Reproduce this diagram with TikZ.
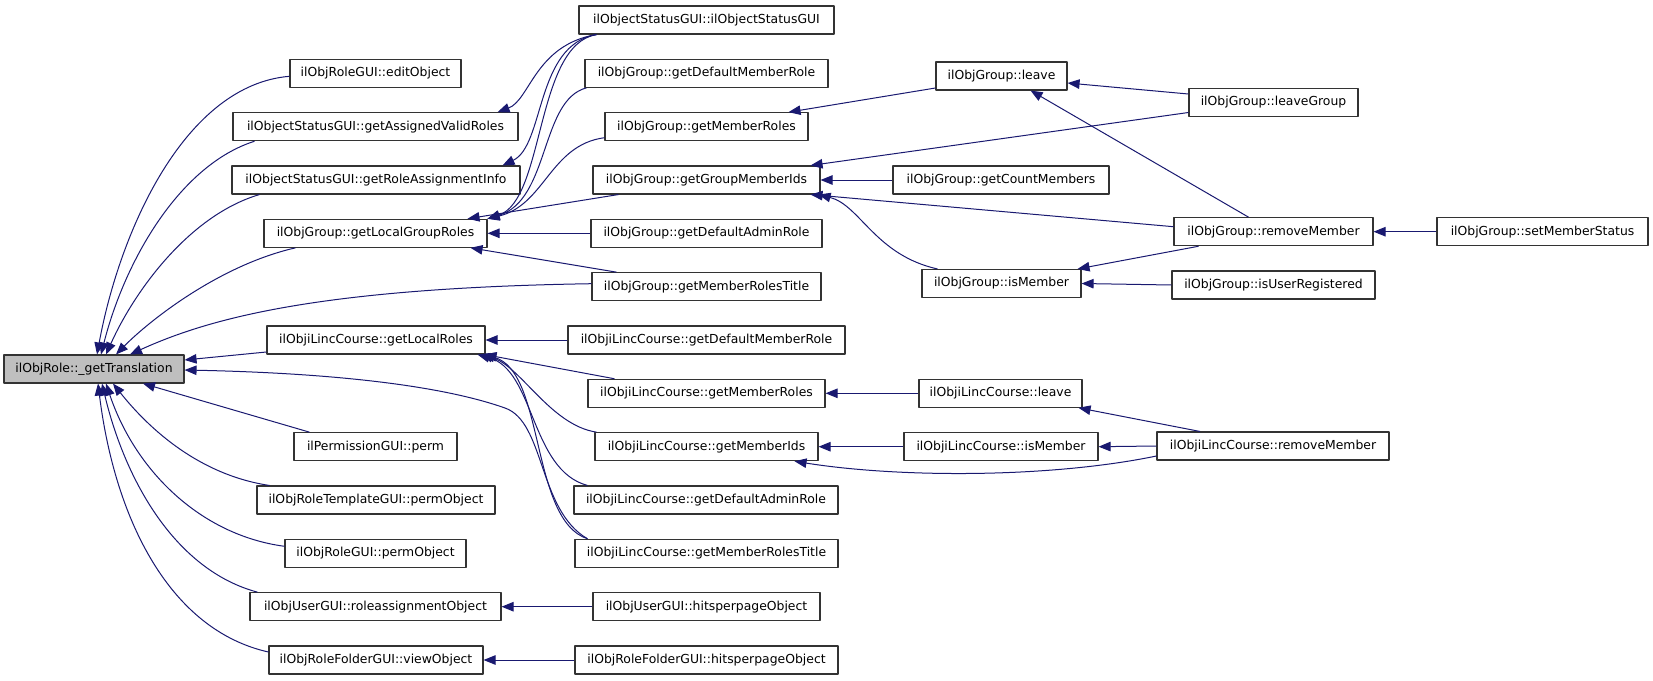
\documentclass[tikz,border=0pt]{standalone}
\usepackage{fontspec}
\setmainfont{DejaVu Sans}
\usetikzlibrary{arrows.meta}
\definecolor{edgeblue}{HTML}{191970}
\definecolor{rootgray}{HTML}{BFBFBF}
\begin{document}
\begin{tikzpicture}[x=1pt, y=-1pt, line join=round]
			\tikzset{fn/.style={draw=black!80, line width=1.1pt, minimum height=28pt, inner sep=0pt, font=\fontsize{12.4}{14}\selectfont},
				edge/.style={draw=edgeblue, line width=1pt, arrows={Triangle[length=12pt,width=9.5pt]-}}}
			\useasboundingbox (0,0) rectangle (1653,680);
			% the function itself
			\node[fn, fill=rootgray, minimum width=180] (root) at (94,369) {ilObjRole::\_getTranslation};
			% its callers, column by column
			\foreach \n/\x/\y/\w/\t in {
				roEdit/375.5/73.3/171/ilObjRoleGUI::editObject,
				osValid/375.5/126.7/285/ilObjectStatusGUI::getAssignedValidRoles,
				osInfo/376/180/288/ilObjectStatusGUI::getRoleAssignmentInfo,
				grpLocal/375.5/233.3/223/ilObjGroup::getLocalGroupRoles,
				lcLocal/376/340/218/ilObjiLincCourse::getLocalRoles,
				pmPerm/375.5/446.7/163/ilPermissionGUI::perm,
				rtPerm/376/500/238/ilObjRoleTemplateGUI::permObject,
				roPerm/375.5/553.3/181/ilObjRoleGUI::permObject,
				usAssign/375.5/606.7/251/ilObjUserGUI::roleassignmentObject,
				rfView/376/660/214/ilObjRoleFolderGUI::viewObject}
				\node[fn, minimum width=\w] (\n) at (\x,\y) {\t};
			\foreach \n/\x/\y/\w/\t in {
				osCtor/706.5/20/255/ilObjectStatusGUI::ilObjectStatusGUI,
				grpDefMem/706.5/73.3/243/ilObjGroup::getDefaultMemberRole,
				grpMemRoles/706.5/126.7/203/ilObjGroup::getMemberRoles,
				grpMemIds/706.5/180/227/ilObjGroup::getGroupMemberIds,
				grpDefAdm/706.5/233.3/231/ilObjGroup::getDefaultAdminRole,
				grpTitle/706.5/286.7/229/ilObjGroup::getMemberRolesTitle,
				lcDefMem/706.5/340/277/ilObjiLincCourse::getDefaultMemberRole,
				lcMemRoles/706.5/393.3/237/ilObjiLincCourse::getMemberRoles,
				lcMemIds/706.5/446.7/223/ilObjiLincCourse::getMemberIds,
				lcDefAdm/706/500/264/ilObjiLincCourse::getDefaultAdminRole,
				lcTitle/706.5/553.3/263/ilObjiLincCourse::getMemberRolesTitle,
				usHits/706.5/606.7/227/ilObjUserGUI::hitsperpageObject,
				rfHits/706.5/660/263/ilObjRoleFolderGUI::hitsperpageObject}
				\node[fn, minimum width=\w] (\n) at (\x,\y) {\t};
			\foreach \n/\x/\y/\w/\t in {
				grpLeave/1001.5/76/131/ilObjGroup::leave,
				grpCount/1001/180/216/ilObjGroup::getCountMembers,
				grpIsMem/1001.5/283.5/159/ilObjGroup::isMember,
				lcLeave/1000.5/393.3/163/ilObjiLincCourse::leave,
				lcIsMem/1001/446.7/194/ilObjiLincCourse::isMember,
				grpLeaveGrp/1273.5/102.5/169/ilObjGroup::leaveGroup,
				grpRemove/1273.5/231.7/199/ilObjGroup::removeMember,
				grpIsReg/1273.5/285/203/ilObjGroup::isUserRegistered,
				lcRemove/1273/446/232/ilObjiLincCourse::removeMember,
				grpStatus/1542.5/231.7/211/ilObjGroup::setMemberStatus}
				\node[fn, minimum width=\w] (\n) at (\x,\y) {\t};
			% calls into _getTranslation
			\draw[edge] ([xshift=3pt]root.north) .. controls (120,230) and (185,85) .. ([yshift=-3pt]roEdit.west);
			\draw[edge] ([xshift=7pt]root.north) .. controls (125,260) and (180,165) .. ([xshift=22pt]osValid.south west);
			\draw[edge] ([xshift=12pt]root.north) .. controls (135,290) and (190,215) .. ([xshift=28pt]osInfo.south west);
			\draw[edge] ([xshift=22pt]root.north) .. controls (150,320) and (220,265) .. ([xshift=32pt]grpLocal.south west);
			\draw[edge] ([xshift=36pt]root.north) .. controls (210,318) and (320,288) .. ([yshift=3pt]grpTitle.west);
			\draw[edge] ([yshift=9pt]root.east) -- ([yshift=-12pt]lcLocal.west);
			\draw[edge] ([yshift=-1pt]root.east) .. controls (330,373) and (440,385) .. (505,408) .. controls (545,422) and (538,510) .. ([xshift=13pt]lcTitle.north west);
			\draw[edge] ([xshift=49pt]root.south) -- ([xshift=16pt]pmPerm.north west);
			\draw[edge] ([xshift=19pt]root.south) .. controls (150,430) and (200,475) .. ([xshift=13pt]rtPerm.north west);
			\draw[edge] ([xshift=12pt]root.south) .. controls (135,470) and (200,535) .. ([yshift=7pt]roPerm.west);
			\draw[edge] ([xshift=8pt]root.south) .. controls (125,480) and (175,570) .. ([xshift=8pt]usAssign.north west);
			\draw[edge] ([xshift=4pt]root.south) .. controls (115,520) and (170,630) .. ([yshift=8pt]rfView.west);
			% second column
			\draw[edge] ([xshift=-21pt]osValid.north east) .. controls (530,100) and (535,45) .. ([xshift=18pt]osCtor.south west);
			\draw[edge] ([xshift=-18pt]osInfo.north east) .. controls (545,145) and (535,45) .. ([xshift=18pt]osCtor.south west);
			\draw[edge] (grpLocal.north east) .. controls (545,200) and (535,45) .. ([xshift=18pt]osCtor.south west);
			\draw[edge] (grpLocal.north east) .. controls (550,200) and (540,100) .. ([xshift=2pt]grpDefMem.south west);
			\draw[edge] (grpLocal.north east) .. controls (545,205) and (550,145) .. ([yshift=-11pt]grpMemRoles.west);
			\draw[edge] ([xshift=-20pt]grpLocal.north east) -- ([xshift=26pt]grpMemIds.south west);
			\draw[edge] ([xshift=-17pt]grpLocal.south east) -- ([xshift=25pt]grpTitle.north west);
			\draw[edge] ([xshift=-1pt]lcLocal.south east) -- ([xshift=27pt]lcMemRoles.north west);
			\draw[edge] ([xshift=-5pt]lcLocal.south east) .. controls (520,365) and (550,425) .. ([xshift=2pt]lcMemIds.north west);
			\draw[edge] ([xshift=-8pt]lcLocal.south east) .. controls (535,370) and (530,470) .. ([xshift=14pt]lcDefAdm.north west);
			\draw[edge] ([xshift=-3pt]lcLocal.south east) .. controls (545,370) and (530,520) .. ([xshift=13pt]lcTitle.north west);
			% third column and beyond
			\draw[edge] ([xshift=-20pt]grpMemRoles.north east) -- ([yshift=-12pt]grpLeave.west);
			\draw[edge] ([yshift=-7pt]grpLeave.east) -- ([yshift=8.5pt]grpLeaveGrp.west);
			\draw[edge] ([xshift=-37pt]grpLeave.south east) -- ([xshift=-25pt]grpRemove.north);
			\draw[edge] ([xshift=-10pt]grpMemIds.north east) -- ([yshift=-10pt]grpLeaveGrp.west);
			\draw[edge] ([xshift=-10pt]grpMemIds.south east) -- ([yshift=5pt]grpRemove.west);
			\draw[edge] ([xshift=-2pt]grpMemIds.south east) .. controls (860,205) and (875,255) .. ([xshift=16pt]grpIsMem.north west);
			\draw[edge] ([xshift=-4pt]grpIsMem.north east) -- ([xshift=-75pt]grpRemove.south);
			\draw[edge] ([xshift=-4pt]lcLeave.south east) -- ([xshift=-73pt]lcRemove.north);
			\draw[edge] ([xshift=-24pt]lcMemIds.south east) .. controls (900,478) and (1050,478) .. ([yshift=-10pt]lcRemove.west);
			\foreach \a/\b in {grpLocal/grpDefAdm, grpMemIds/grpCount, grpIsMem/grpIsReg, grpRemove/grpStatus,
				lcLocal/lcDefMem, lcMemRoles/lcLeave, lcMemIds/lcIsMem, lcIsMem/lcRemove, usAssign/usHits, rfView/rfHits}
				\draw[edge] (\a.east) -- (\b.west);
		\end{tikzpicture}
\end{document}
